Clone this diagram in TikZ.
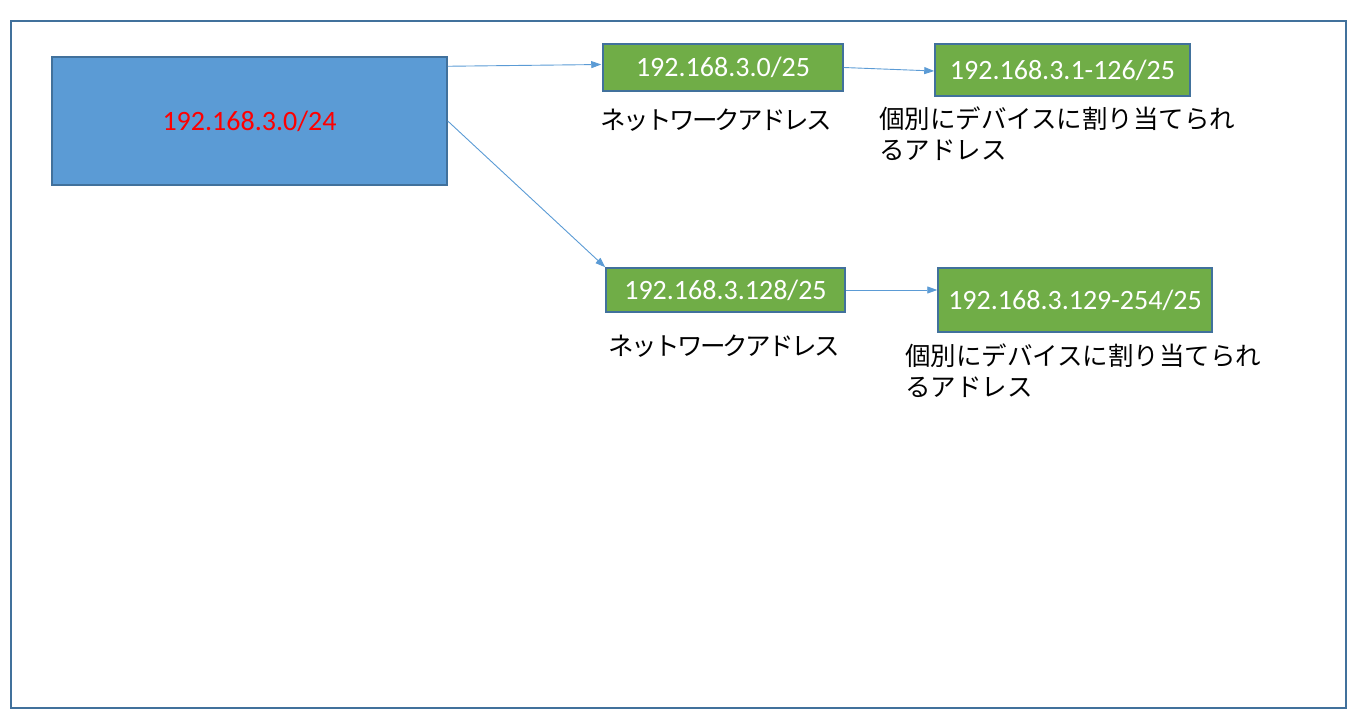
\documentclass[tikz,border=0pt]{standalone}
\usepackage{fontspec}
\setmainfont{Carlito}
\newfontfamily\jp{Noto Sans CJK JP}
\newfontfamily\jpnarrow[LetterSpace=-10]{Noto Sans CJK JP}
\usetikzlibrary{arrows.meta,calc}
\definecolor{frameblue}{HTML}{41719C}
\definecolor{boxblue}{HTML}{5B9BD5}
\definecolor{boxgreen}{HTML}{70AD47}
\definecolor{linkblue}{HTML}{5B9BD5}
\tikzset{
  mainbox/.style={draw=frameblue, line width=1.5pt, fill=boxblue, inner sep=0pt, text=red, font=\fontsize{28}{32}\selectfont},
  netbox/.style={draw=frameblue, line width=1.5pt, fill=boxgreen, inner sep=0pt, text=white, font=\fontsize{28}{32}\selectfont},
  jplabel/.style={inner sep=0pt, font=\jpnarrow\fontsize{25.5}{31}\selectfont, align=left},
  jplong/.style={inner sep=0pt, font=\jp\fontsize{25.5}{30.5}\selectfont, align=left},
  link/.style={draw=linkblue, line width=0.9pt, -{Triangle[length=10pt,width=7pt]}}
}
\begin{document}
\begin{tikzpicture}[x=1pt,y=-1pt]
\useasboundingbox (0,0) rectangle (1358,724);
\node[draw=frameblue, line width=1.5pt, minimum width=1335pt, minimum height=687pt, inner sep=0pt] (frame) at (678.5,364.5) {};
\node[mainbox, minimum width=395pt, minimum height=128pt] (net24) at (249.5,121) {192.168.3.0/24};
\node[netbox, minimum width=240pt, minimum height=47pt] (net0) at (723,67.5) {192.168.3.0/25};
\node[netbox, minimum width=255pt, minimum height=52pt] (hosts0) at (1062.5,70) {192.168.3.1-126/25};
\node[netbox, minimum width=239pt, minimum height=44pt] (net128) at (725.5,290) {192.168.3.128/25};
\node[netbox, minimum width=274pt, minimum height=64pt] (hosts128) at (1075,300) {192.168.3.129-254/25};
\node[jplabel, anchor=west] (lab0) at (600,120) {ネットワークアドレス};
\node[jplabel, anchor=west] (lab128) at (608,346) {ネットワークアドレス};
\node[jplong, anchor=north west] (hlab0) at (879,107) {個別にデバイスに割り当てられ\\るアドレス};
\node[jplong, anchor=north west] (hlab128) at (905,344) {個別にデバイスに割り当てられ\\るアドレス};
\draw[link] ([yshift=-10pt]net24.north east) -- ([xshift=-1pt,yshift=3pt]net0.west);
\draw[link] (net24.east) -- (net128.north west);
\draw[link] (net0.east) -- ([yshift=-1pt]hosts0.west);
\draw[link] (net128.east) -- (net128.east -| hosts128.west);
\end{tikzpicture}
\end{document}
